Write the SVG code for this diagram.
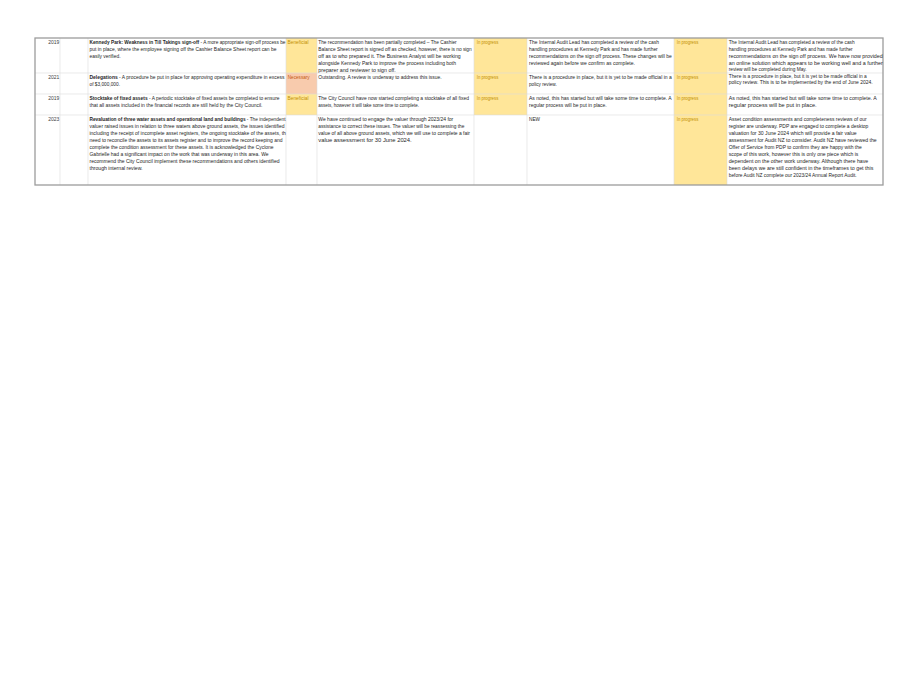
<svg xmlns="http://www.w3.org/2000/svg" width="909" height="690" viewBox="0 0 909 690">
<style>
.t{font-family:"Liberation Sans",Arial,sans-serif;font-size:5px;fill:#262626}
.b{font-weight:bold}
.y{font-family:"Liberation Sans",Arial,sans-serif;font-size:5px;fill:#404040;text-anchor:end}
.tg{font-family:"Liberation Sans",Arial,sans-serif;font-size:5px;fill:#bf8f00}
.tn{font-family:"Liberation Sans",Arial,sans-serif;font-size:5px;fill:#c65911}
.yel{fill:#ffe699}
.sal{fill:#f8cbad}
.g{stroke:#dcdcdc;stroke-width:0.6;fill:none}
</style>
<rect x="0" y="0" width="909" height="690" fill="#ffffff"/>
<g id="fills">
<rect class="yel" x="286" y="38" width="31" height="35"/>
<rect class="sal" x="286" y="73" width="31" height="21"/>
<rect class="yel" x="286" y="94" width="31" height="21"/>
<rect class="yel" x="474" y="38" width="53" height="77"/>
<rect class="yel" x="674" y="38" width="53" height="147"/>
</g>
<g id="grid">
<path class="g" d="M60 38V185M88 38V185M286 38V185M317 38V185M474 38V185M527 38V185M674 38V185M727 38V185"/>
<path class="g" d="M35 73H883M35 94H883M35 115H883"/>
<rect x="35" y="38" width="848" height="147" fill="none" stroke="#9c9c9c" stroke-width="1.3"/>
</g>
<g id="row1">
<text class="y" x="59.3" y="44">2019</text>
<text class="t" x="89.5" y="44" textLength="196" lengthAdjust="spacingAndGlyphs"><tspan class="b">Kennedy Park: Weakness in Till Takings sign-off</tspan> - A more appropriate sign-off process be</text>
<text class="t" x="89.5" y="51" textLength="187" lengthAdjust="spacingAndGlyphs">put in place, where the employee signing off the Cashier Balance Sheet report can be</text>
<text class="t" x="89.5" y="58" textLength="31" lengthAdjust="spacingAndGlyphs">easily verified.</text>
<text class="tg" x="287.5" y="44" textLength="21" lengthAdjust="spacingAndGlyphs">Beneficial</text>
<text class="t" x="318.3" y="43.6" textLength="138.4" lengthAdjust="spacingAndGlyphs">The recommendation has been partially completed – The Cashier</text>
<text class="t" x="318.3" y="50.6" textLength="153.4" lengthAdjust="spacingAndGlyphs">Balance Sheet report is signed off as checked, however, there is no sign</text>
<text class="t" x="318.3" y="57.6" textLength="142.4" lengthAdjust="spacingAndGlyphs">off as to who prepared it. The Business Analyst will be working</text>
<text class="t" x="318.3" y="64.6" textLength="137.7" lengthAdjust="spacingAndGlyphs">alongside Kennedy Park to improve the process including both</text>
<text class="t" x="318.3" y="71.6" textLength="77.4" lengthAdjust="spacingAndGlyphs">preparer and reviewer to sign off.</text>
<text class="tg" x="476.7" y="43.6" textLength="21.6" lengthAdjust="spacingAndGlyphs">In progress</text>
<text class="t" x="529" y="43.6" textLength="130" lengthAdjust="spacingAndGlyphs">The Internal Audit Lead has completed a review of the cash</text>
<text class="t" x="529" y="50.6" textLength="128.7" lengthAdjust="spacingAndGlyphs">handling procedures at Kennedy Park and has made further</text>
<text class="t" x="529" y="57.6" textLength="142.7" lengthAdjust="spacingAndGlyphs">recommendations on the sign off process. These changes will be</text>
<text class="t" x="529" y="64.6" textLength="106" lengthAdjust="spacingAndGlyphs">reviewed again before we confirm as complete.</text>
<text class="tg" x="676.7" y="43.6" textLength="21.6" lengthAdjust="spacingAndGlyphs">In progress</text>
<text class="t" x="728.7" y="43.6" textLength="126" lengthAdjust="spacingAndGlyphs">The Internal Audit Lead has completed a review of the cash</text>
<text class="t" x="728.7" y="50.6" textLength="124" lengthAdjust="spacingAndGlyphs">handling procedures at Kennedy Park and has made further</text>
<text class="t" x="728.7" y="57.6" textLength="154" lengthAdjust="spacingAndGlyphs">recommendations on the sign off process. We have now provided</text>
<text class="t" x="728.7" y="64.6" textLength="154" lengthAdjust="spacingAndGlyphs">an online solution which appears to be working well and a further</text>
<text class="t" x="728.7" y="71.2" textLength="78" lengthAdjust="spacingAndGlyphs">review will be completed during May.</text>
</g>
<g id="row2">
<text class="y" x="59.3" y="78.6">2021</text>
<text class="t" x="89.5" y="78.6" textLength="195" lengthAdjust="spacingAndGlyphs"><tspan class="b">Delegations</tspan> - A procedure be put in place for approving operating expenditure in excess</text>
<text class="t" x="89.5" y="85.6" textLength="30.5" lengthAdjust="spacingAndGlyphs">of $3,000,000.</text>
<text class="tn" x="287.7" y="78.6" textLength="22" lengthAdjust="spacingAndGlyphs">Necessary</text>
<text class="t" x="318.3" y="78.6" textLength="123.4" lengthAdjust="spacingAndGlyphs">Outstanding. A review is underway to address this issue.</text>
<text class="tg" x="476.7" y="78.6" textLength="21.6" lengthAdjust="spacingAndGlyphs">In progress</text>
<text class="t" x="529" y="78.6" textLength="142.7" lengthAdjust="spacingAndGlyphs">There is a procedure in place, but it is yet to be made official in a</text>
<text class="t" x="529" y="85.6" textLength="27.7" lengthAdjust="spacingAndGlyphs">policy review.</text>
<text class="tg" x="676.7" y="78.6" textLength="21.6" lengthAdjust="spacingAndGlyphs">In progress</text>
<text class="t" x="728.7" y="77.6" textLength="138" lengthAdjust="spacingAndGlyphs">There is a procedure in place, but it is yet to be made official in a</text>
<text class="t" x="728.7" y="84.4" textLength="144" lengthAdjust="spacingAndGlyphs">policy review. This is to be implemented by the end of June 2024.</text>
</g>
<g id="row3">
<text class="y" x="59.3" y="99.6">2019</text>
<text class="t" x="89.5" y="99.6" textLength="190" lengthAdjust="spacingAndGlyphs"><tspan class="b">Stocktake of fixed assets</tspan> - A periodic stocktake of fixed assets be completed to ensure</text>
<text class="t" x="89.5" y="106.6" textLength="173" lengthAdjust="spacingAndGlyphs">that all assets included in the financial records are still held by the City Council.</text>
<text class="tg" x="287.5" y="99.6" textLength="21" lengthAdjust="spacingAndGlyphs">Beneficial</text>
<text class="t" x="318.3" y="99.6" textLength="150.7" lengthAdjust="spacingAndGlyphs">The City Council have now started completing a stocktake of all fixed</text>
<text class="t" x="318.3" y="106.6" textLength="100.7" lengthAdjust="spacingAndGlyphs">assets, however it will take some time to complete.</text>
<text class="tg" x="476.7" y="99.6" textLength="21.6" lengthAdjust="spacingAndGlyphs">In progress</text>
<text class="t" x="529" y="99.6" textLength="142.7" lengthAdjust="spacingAndGlyphs">As noted, this has started but will take some time to complete. A</text>
<text class="t" x="529" y="106.6" textLength="77.7" lengthAdjust="spacingAndGlyphs">regular process will be put in place.</text>
<text class="tg" x="676.7" y="99.6" textLength="21.6" lengthAdjust="spacingAndGlyphs">In progress</text>
<text class="t" x="728.7" y="99.6" textLength="148" lengthAdjust="spacingAndGlyphs">As noted, this has started but will take some time to complete. A</text>
<text class="t" x="728.7" y="106.6" textLength="88" lengthAdjust="spacingAndGlyphs">regular process will be put in place.</text>
</g>
<g id="row4">
<text class="y" x="59.3" y="120.6">2023</text>
<text class="t" x="89.5" y="120.6" style="font-size:4.8px" textLength="196" lengthAdjust="spacingAndGlyphs"><tspan class="b">Revaluation of three water assets and operational land and buildings</tspan> - The independent</text>
<text class="t" x="89.5" y="127.6" textLength="195" lengthAdjust="spacingAndGlyphs">valuer raised issues in relation to three waters above ground assets, the issues identified</text>
<text class="t" x="89.5" y="134.6" textLength="196.3" lengthAdjust="spacingAndGlyphs">including the receipt of incomplete asset registers, the ongoing stocktake of the assets, th</text>
<text class="t" x="89.5" y="141.6" textLength="193" lengthAdjust="spacingAndGlyphs">need to reconcile the assets to its assets register and to improve the record keeping and</text>
<text class="t" x="89.5" y="148.6" textLength="184" lengthAdjust="spacingAndGlyphs">complete the condition assessment for these assets. It is acknowledged the Cyclone</text>
<text class="t" x="89.5" y="155.6" textLength="179" lengthAdjust="spacingAndGlyphs">Gabrielle had a significant impact on the work that was underway in this area. We</text>
<text class="t" x="89.5" y="162.6" textLength="190" lengthAdjust="spacingAndGlyphs">recommend the City Council implement these recommendations and others identified</text>
<text class="t" x="89.5" y="169.6" textLength="53" lengthAdjust="spacingAndGlyphs">through internal review.</text>
<text class="t" x="318.3" y="120.6" textLength="135" lengthAdjust="spacingAndGlyphs">We have continued to engage the valuer through 2023/24 for</text>
<text class="t" x="318.3" y="127.6" textLength="146" lengthAdjust="spacingAndGlyphs">assistance to correct these issues. The valuer will be reassessing the</text>
<text class="t" x="318.3" y="134.6" textLength="151.7" lengthAdjust="spacingAndGlyphs">value of all above ground assets, which we will use to complete a fair</text>
<text class="t" x="318.3" y="141.6" textLength="93.4" lengthAdjust="spacingAndGlyphs">value assessment for 30 June 2024.</text>
<text class="t" x="529" y="120.6" textLength="11" lengthAdjust="spacingAndGlyphs">NEW</text>
<text class="tg" x="676.7" y="120.6" textLength="21.6" lengthAdjust="spacingAndGlyphs">In progress</text>
<text class="t" x="728.7" y="120.6" textLength="138" lengthAdjust="spacingAndGlyphs">Asset condition assessments and completeness reviews of our</text>
<text class="t" x="728.7" y="127.6" textLength="139.6" lengthAdjust="spacingAndGlyphs">register are underway. PDP are engaged to complete a desktop</text>
<text class="t" x="728.7" y="134.6" textLength="128" lengthAdjust="spacingAndGlyphs">valuation for 30 June 2024 which will provide a fair value</text>
<text class="t" x="728.7" y="141.6" textLength="148" lengthAdjust="spacingAndGlyphs">assessment for Audit NZ to consider. Audit NZ have reviewed the</text>
<text class="t" x="728.7" y="148.6" textLength="133" lengthAdjust="spacingAndGlyphs">Offer of Service from PDP to confirm they are happy with the</text>
<text class="t" x="728.7" y="155.6" textLength="129.6" lengthAdjust="spacingAndGlyphs">scope of this work, however this is only one piece which is</text>
<text class="t" x="728.7" y="162.6" textLength="139.6" lengthAdjust="spacingAndGlyphs">dependent on the other work underway. Although there have</text>
<text class="t" x="728.7" y="169.6" textLength="144.6" lengthAdjust="spacingAndGlyphs">been delays we are still confident in the timeframes to get this</text>
<text class="t" x="728.7" y="176.6" textLength="128" lengthAdjust="spacingAndGlyphs">before Audit NZ complete our 2023/24 Annual Report Audit.</text>
</g>
</svg>
